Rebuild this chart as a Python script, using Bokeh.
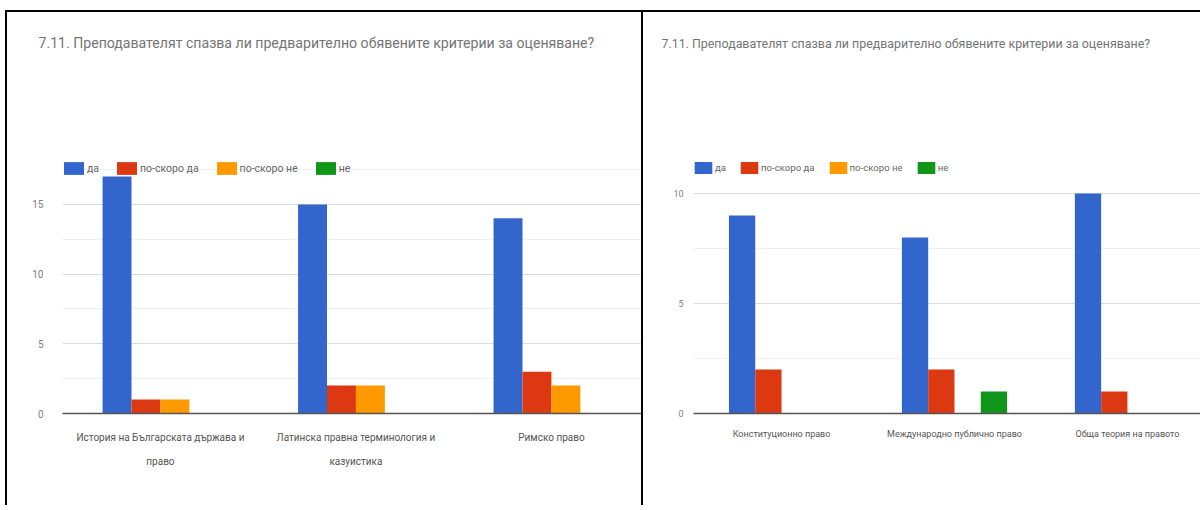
from bokeh.plotting import figure
from bokeh.models import (Range1d, FixedTicker, LinearAxis, Legend, LegendItem,
                          ColumnDataSource)
from bokeh.transform import dodge
from bokeh.layouts import row, column
from bokeh.embed import file_html
from bokeh.resources import INLINE

# ---------------- data ----------------
title_text = "7.11. Преподавателят спазва ли предварително обявените критерии за оценяване?"
series_names = ["да", "по-скоро да", "по-скоро не", "не"]
series_colors = ["#3366cc", "#dc3912", "#ff9900", "#109618"]

left_categories = ["История на Българската държава и право",
                   "Латинска правна терминология и казуистика",
                   "Римско право"]
left_label_line1 = ["История на Българската държава и",
                    "Латинска правна терминология и",
                    "Римско право"]
left_label_line2 = ["право", "казуистика", ""]
left_da = [17, 15, 14]
left_po_skoro_da = [1, 2, 3]
left_po_skoro_ne = [1, 2, 2]
left_ne = [0, 0, 0]
left_y_ticks = [0, 5, 10, 15]

right_categories = ["Конституционно право",
                    "Международно публично право",
                    "Обща теория на правото"]
right_label_line1 = ["Конституционно право",
                     "Международно публично право",
                     "Обща теория на правото"]
right_label_line2 = ["", "", ""]
right_da = [9, 8, 10]
right_po_skoro_da = [2, 2, 1]
right_po_skoro_ne = [0, 0, 0]
right_ne = [0, 1, 0]
right_y_ticks = [0, 5, 10]

FONT = "Roboto"
BORDER = "2px solid #000"
TITLE_H = 128
CHART_H = 367
MB_TOP = 12
MB_BOTTOM = 92
FRAME_H = CHART_H - MB_TOP - MB_BOTTOM


def make_title_fig(width, mb_left, size, offset):
    t = figure(width=width, height=TITLE_H, output_backend="svg",
               toolbar_location=None, tools="", title=title_text,
               x_range=Range1d(0, 1), y_range=Range1d(0, 1),
               x_axis_location=None, y_axis_location=None,
               min_border_left=mb_left, min_border_right=0,
               min_border_top=38, min_border_bottom=0,
               outline_line_color=None,
               styles={"border-left": BORDER, "border-top": BORDER})
    t.grid.visible = False
    t.title.text_font = FONT
    t.title.text_font_size = size
    t.title.text_font_style = "normal"
    t.title.text_color = "#757575"
    t.title.align = "left"
    t.title.vertical_align = "bottom"
    t.title.offset = offset
    t.title.standoff = 0
    return t


def make_chart(line1, line2, categories, series, y_ticks, y_max, width, mb_left,
               x_start, x_end, bar_w, legend_bottom, legend_size, legend_spacing,
               glyph_w, glyph_h, tick_size, tick_standoff, cat_size, cat_standoff,
               cat2_standoff):
    p = figure(width=width, height=CHART_H, output_backend="svg",
               toolbar_location=None, tools="", title=None,
               x_range=Range1d(x_start, x_end), y_range=Range1d(0, y_max),
               min_border_left=mb_left, min_border_right=0,
               min_border_top=MB_TOP, min_border_bottom=MB_BOTTOM,
               outline_line_color=None, x_axis_type=None,
               styles={"border-left": BORDER})
    idx = list(range(len(categories)))
    data = {"idx": idx, "cat": categories}
    for i, vals in enumerate(series):
        data["s%d" % i] = vals
    src = ColumnDataSource(data)

    offsets = [(-1.5 + i) * bar_w for i in range(len(series))]
    items = []
    for i, (name, col) in enumerate(zip(series_names, series_colors)):
        r = p.vbar(x=dodge("idx", offsets[i]), top="s%d" % i, width=bar_w,
                   source=src, fill_color=col, line_color=None)
        items.append(LegendItem(label=name, renderers=[r]))

    # y axis and grid
    p.yaxis.ticker = FixedTicker(ticks=y_ticks,
                                 minor_ticks=[t + 2.5 for t in y_ticks])
    p.yaxis.axis_line_color = None
    p.yaxis.major_tick_line_color = None
    p.yaxis.minor_tick_line_color = None
    p.yaxis.major_tick_out = 0
    p.yaxis.minor_tick_out = 0
    p.yaxis.major_label_text_font = FONT
    p.yaxis.major_label_text_font_size = tick_size
    p.yaxis.major_label_text_color = "#808080"
    p.yaxis.major_label_standoff = tick_standoff
    p.ygrid.grid_line_color = "#dcdcdc"
    p.ygrid.minor_grid_line_color = "#efefef"
    p.xgrid.grid_line_color = None

    # category axis (first line) and a second line of the wrapped labels
    for k, (lines, so) in enumerate([(line1, cat_standoff), (line2, cat2_standoff)]):
        ax = LinearAxis(ticker=FixedTicker(ticks=idx),
                        major_label_overrides={i: t for i, t in enumerate(lines)})
        ax.axis_line_color = "#555555" if k == 0 else None
        ax.axis_line_width = 1.5
        ax.major_tick_line_color = None
        ax.minor_tick_line_color = None
        ax.major_tick_out = 0
        ax.minor_tick_out = 0
        ax.major_label_text_font = FONT
        ax.major_label_text_font_size = cat_size
        ax.major_label_text_color = "#555555"
        ax.major_label_standoff = so
        p.add_layout(ax, "below")

    legend = Legend(items=items, orientation="horizontal",
                    location=(-1, legend_bottom),
                    glyph_width=glyph_w, glyph_height=glyph_h, label_height=glyph_h,
                    label_width=0, label_standoff=1, spacing=legend_spacing,
                    padding=0, margin=0,
                    border_line_color=None, background_fill_alpha=0,
                    label_text_font=FONT, label_text_font_size=legend_size,
                    label_text_color="#666666")
    p.add_layout(legend)
    return p


LEFT_W = 636
RIGHT_W = 559

left_title = make_title_fig(LEFT_W, 55, "14.1px", -24)
left_chart = make_chart(left_label_line1, left_label_line2, left_categories,
                        [left_da, left_po_skoro_da, left_po_skoro_ne, left_ne],
                        left_y_ticks, FRAME_H / 13.94, LEFT_W, 55,
                        x_start=-0.501, x_end=2.471, bar_w=0.148,
                        legend_bottom=237, legend_size="10.5px", legend_spacing=15,
                        glyph_w=25, glyph_h=16, tick_size="10px", tick_standoff=19,
                        cat_size="10px", cat_standoff=18, cat2_standoff=10)

right_title = make_title_fig(RIGHT_W, 50, "12.4px", -32)
right_chart = make_chart(right_label_line1, right_label_line2, right_categories,
                         [right_da, right_po_skoro_da, right_po_skoro_ne, right_ne],
                         right_y_ticks, FRAME_H / 22.0, RIGHT_W, 50,
                         x_start=-0.509, x_end=2.434, bar_w=0.152,
                         legend_bottom=238, legend_size="9.6px", legend_spacing=12,
                         glyph_w=22, glyph_h=15, tick_size="9px", tick_standoff=10,
                         cat_size="9px", cat_standoff=15, cat2_standoff=3)

layout = row(column(left_title, left_chart), column(right_title, right_chart),
             margin=(10, 0, 0, 5))
open("out.html", "w").write(file_html(layout, INLINE))
